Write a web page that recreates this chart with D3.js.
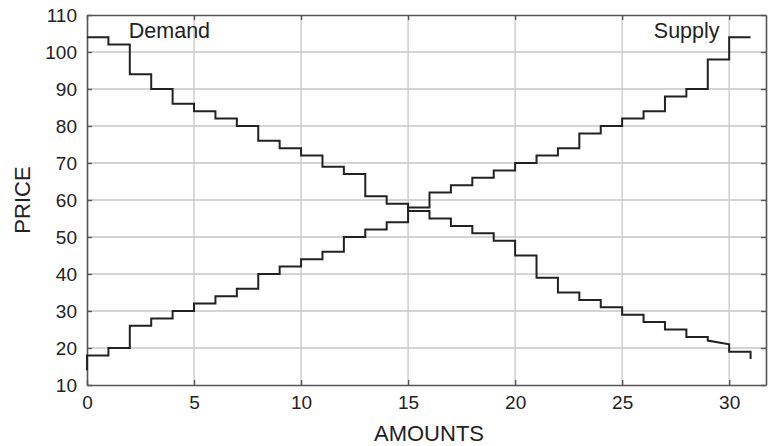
<!DOCTYPE html>
<html>
<head>
<meta charset="utf-8">
<script src="https://cdn.jsdelivr.net/npm/d3@7"></script>
<style>
  html, body { margin: 0; padding: 0; background: #fff; }
  svg { display: block; }
  text { font-family: "Liberation Sans", Arial, Helvetica, sans-serif; fill: #222; }
</style>
</head>
<body>
<svg id="chart" width="768" height="446"></svg>
<script>
// ---- data ----
const xTicks = [0, 5, 10, 15, 20, 25, 30];
const yTicks = [10, 20, 30, 40, 50, 60, 70, 80, 90, 100, 110];
// price for each unit interval [i, i+1), i = 0..30
const demandPrices = [104, 102, 94, 90, 86, 84, 82, 80, 76, 74, 72, 69, 67, 61, 59, 57,
                      55, 53, 51, 49, 45, 39, 35, 33, 31, 29, 27, 25, 23, 22, 19];
const demandSlopedEnd = { 29: 21 };   // interval 29 slopes down to this price
const demandFinalPrice = 17;          // final drop at the last amount
const supplyPrices = [18, 20, 26, 28, 30, 32, 34, 36, 40, 42, 44, 46, 50, 52, 54, 58,
                      62, 64, 66, 68, 70, 72, 74, 78, 80, 82, 84, 88, 90, 98, 104];
const supplyStartPrice = 14;          // initial rise at amount 0
const labels = { demand: "Demand", supply: "Supply", x: "AMOUNTS", y: "PRICE" };

// ---- layout ----
const svg = d3.select("#chart");
const L = 87, R = 766, T = 15, B = 385;
const x = d3.scaleLinear().domain([0, 31.72]).range([L, R]);
const y = d3.scaleLinear().domain([10, 110]).range([B, T]);

// grid
const grid = svg.append("g").attr("stroke", "#c6c6c6").attr("stroke-width", 1.3);
grid.selectAll("line.v").data(xTicks.filter(d => d > 0)).join("line")
  .attr("x1", d => x(d)).attr("x2", d => x(d)).attr("y1", T).attr("y2", B);
grid.selectAll("line.h").data(yTicks.filter(d => d > 10 && d < 110)).join("line")
  .attr("x1", L).attr("x2", R).attr("y1", d => y(d)).attr("y2", d => y(d));

// axes (ticks pointing inward)
const axStyle = g => {
  g.select(".domain").attr("stroke", "#555").attr("stroke-width", 1.6);
  g.selectAll(".tick line").attr("stroke", "#555").attr("stroke-width", 1.4);
  g.selectAll(".tick text").style("font-size", "19px").attr("fill", "#222");
};
svg.append("g").attr("transform", `translate(0,${B})`)
  .call(d3.axisBottom(x).tickValues(xTicks).tickSizeInner(-5).tickSizeOuter(0).tickPadding(11))
  .call(axStyle);
svg.append("g").attr("transform", `translate(0,${T})`)
  .call(d3.axisTop(x).tickValues(xTicks).tickSizeInner(-5).tickSizeOuter(0).tickFormat(""))
  .call(axStyle);
svg.append("g").attr("transform", `translate(${L},0)`)
  .call(d3.axisLeft(y).tickValues(yTicks).tickSizeInner(-5).tickSizeOuter(0).tickPadding(10))
  .call(axStyle);
svg.append("g").attr("transform", `translate(${R},0)`)
  .call(d3.axisRight(y).tickValues(yTicks).tickSizeInner(-5).tickSizeOuter(0).tickFormat(""))
  .call(axStyle);

// step curves
const demandPts = [];
demandPrices.forEach((p, i) => {
  demandPts.push([i, p]);
  demandPts.push([i + 1, demandSlopedEnd[i] !== undefined ? demandSlopedEnd[i] : p]);
});
demandPts.push([demandPrices.length, demandFinalPrice]);

const supplyPts = [[0, supplyStartPrice]];
supplyPrices.forEach((p, i) => {
  supplyPts.push([i, p]);
  supplyPts.push([i + 1, p]);
});

const line = d3.line().x(d => x(d[0])).y(d => y(d[1]));
[demandPts, supplyPts].forEach(pts => {
  svg.append("path").attr("d", line(pts))
    .attr("fill", "none").attr("stroke", "#222").attr("stroke-width", 2)
    .attr("stroke-linejoin", "miter");
});

// annotations
svg.append("text").attr("x", x(2) - 1).attr("y", 38).style("font-size", "21.5px").text(labels.demand);
svg.append("text").attr("x", x(29.55)).attr("y", 38).attr("text-anchor", "end")
  .style("font-size", "21.5px").text(labels.supply);
svg.append("text").attr("x", 429).attr("y", 441).attr("text-anchor", "middle")
  .style("font-size", "22px").text(labels.x);
svg.append("text").attr("transform", `translate(30,${(T + B) / 2}) rotate(-90)`)
  .attr("text-anchor", "middle").style("font-size", "22px").text(labels.y);
</script>
</body>
</html>
